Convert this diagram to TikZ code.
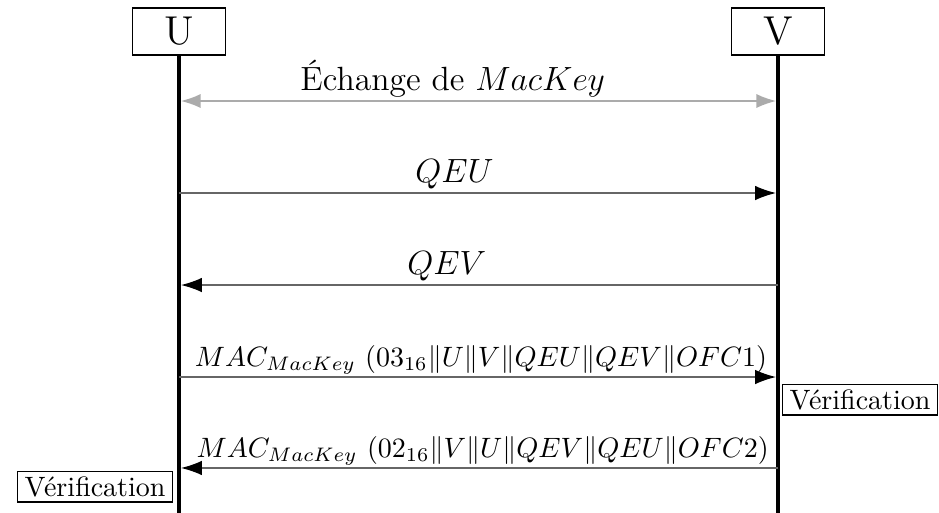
\documentclass[tikz,border=0pt]{standalone}
\usepackage{amsmath}
\usepackage{fontspec}
\usetikzlibrary{arrows.meta}

\begin{document}
\begin{tikzpicture}[actor_node/.style={rectangle,draw,minimum width=1.167cm,minimum height=0.59cm,inner sep=2pt,font=\Large},
		check_node/.style={rectangle,draw,inner xsep=2.5pt,inner ysep=1.8pt},
		lifeline/.style={line width=1.4pt},
		msg/.style={draw=black!60,line width=0.5pt,-{Latex[length=7.5pt,width=5.2pt,color=black]},shorten >=0.7pt},
		key_msg/.style={draw=black!33,line width=0.5pt,{Latex[length=7pt,width=5pt]}-{Latex[length=7pt,width=5pt]},shorten >=0.7pt,shorten <=0.7pt},
		lbl/.style={anchor=base,yshift=3.7pt,font=\large},
		mac_lbl/.style={anchor=base,yshift=3.7pt,font=\normalsize}]
				\useasboundingbox (0,0) rectangle (11.788,-6.44);

				%the two parties and their lifelines
				\node[actor_node] (U) at (2.247,-0.395){U};
				\node[actor_node] (V) at (9.767,-0.395){V};
				\coordinate (Uend) at (2.247,-6.44);
				\coordinate (Vend) at (9.767,-6.44);

				\draw[lifeline] (U.south) -- (Uend);
				\draw[lifeline] (V.south) -- (Vend);

				%message points on the lifelines
				\coordinate (u1) at (2.247,-1.268);
				\coordinate (v1) at (9.767,-1.268);
				\coordinate (u2) at (2.247,-2.423);
				\coordinate (v2) at (9.767,-2.423);
				\coordinate (u3) at (2.247,-3.578);
				\coordinate (v3) at (9.767,-3.578);
				\coordinate (u4) at (2.247,-4.733);
				\coordinate (v4) at (9.767,-4.733);
				\coordinate (u5) at (2.247,-5.875);
				\coordinate (v5) at (9.767,-5.875);

				\path[key_msg] (u1) -- node[lbl,pos=0.457] {Échange de $MacKey$} (v1);
				\path[msg] (u2) -- node[lbl,pos=0.46] {$QEU$} (v2);
				\path[msg] (v3) -- node[lbl,pos=0.553] {$QEV$} (u3);
				\path[msg] (u4) -- node[mac_lbl,pos=0.504] {$MAC_{MacKey}\ (03_{16}\|U\|V\|QEU\|QEV\|OFC1)$} (v4);
				\path[msg] (v5) -- node[mac_lbl,pos=0.493] {$MAC_{MacKey}\ (02_{16}\|V\|U\|QEV\|QEU\|OFC2)$} (u5);

				%checks on reception
				\node[check_node,anchor=north west] (check_V) at (9.817,-4.82){Vérification};
				\node[check_node,anchor=north east] (check_U) at (2.172,-5.913){Vérification};
				\end{tikzpicture}
\end{document}
